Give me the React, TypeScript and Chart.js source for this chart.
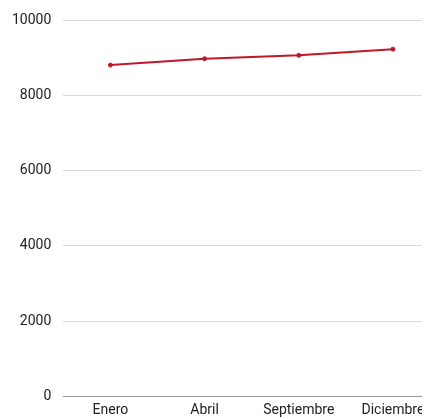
import React, { useEffect, useRef } from "react";
import { Chart, registerables } from "chart.js";

Chart.register(...registerables);

const categories = ["Enero", "Abril", "Septiembre", "Diciembre"];
const values = [8810, 8980, 9070, 9235];
const yTicks = [0, 2000, 4000, 6000, 8000, 10000];

export default function App() {
  const ref = useRef<HTMLCanvasElement>(null);
  useEffect(() => {
    if (!ref.current) return;
    const chart = new Chart(ref.current, {
      type: "line",
      data: {
        labels: categories,
        datasets: [
          {
            data: values,
            borderColor: "#c0182b",
            backgroundColor: "#c0182b",
            borderWidth: 2,
            pointRadius: 2,
            pointBorderWidth: 1,
            pointHoverRadius: 3,
            tension: 0,
          },
        ],
      },
      options: {
        responsive: false,
        animation: false,
        plugins: { legend: { display: false }, tooltip: { enabled: false } },
        scales: {
          x: {
            offset: true,
            grid: { display: false, drawTicks: false },
            border: { display: true, color: "#999999", width: 1 },
            ticks: { color: "#222222", font: { family: "Roboto", size: 14 }, padding: 6, maxRotation: 0, autoSkip: false },
          },
          y: {
            min: 0,
            max: 10000,
            afterBuildTicks: (axis: any) => {
              axis.ticks = yTicks.map((v) => ({ value: v }));
            },
            grid: { color: "#d9d9d9", lineWidth: 1, drawTicks: false },
            border: { display: false },
            ticks: {
              color: "#222222",
              font: { family: "Roboto", size: 14 },
              padding: 12,
              callback: (v: any) => String(v),
            },
          },
        },
      },
    });
    return () => chart.destroy();
  }, []);
  return <canvas ref={ref} width={444} height={425} style={{ display: "block", margin: "-8px 0 0 -8px" }} />;
}
